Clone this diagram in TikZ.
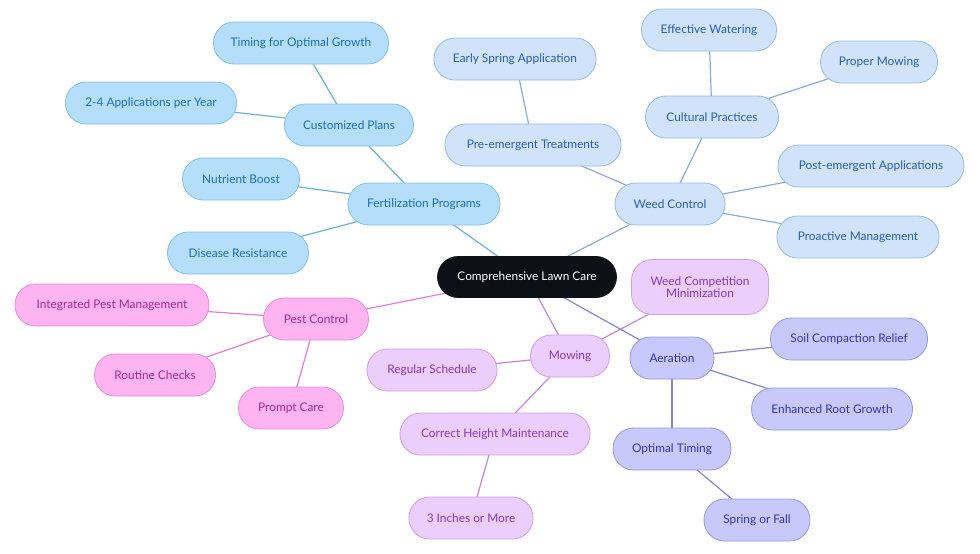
\documentclass[tikz,border=0pt]{standalone}
\usepackage{fontspec}
\setmainfont{Lato}
\usetikzlibrary{backgrounds}
\definecolor{bAf}{RGB}{181,222,250}
\definecolor{bAd}{RGB}{128,192,238}
\definecolor{bAt}{RGB}{24,112,180}
\definecolor{bAl}{RGB}{105,175,225}
\definecolor{bBf}{RGB}{208,227,250}
\definecolor{bBd}{RGB}{150,186,232}
\definecolor{bBt}{RGB}{38,96,176}
\definecolor{bBl}{RGB}{135,172,222}
\definecolor{pkf}{RGB}{253,180,240}
\definecolor{pkd}{RGB}{232,140,215}
\definecolor{pkt}{RGB}{172,40,148}
\definecolor{pkl}{RGB}{228,125,205}
\definecolor{puf}{RGB}{236,206,252}
\definecolor{pud}{RGB}{202,160,232}
\definecolor{put}{RGB}{135,55,188}
\definecolor{pul}{RGB}{192,135,222}
\definecolor{inf}{RGB}{198,201,250}
\definecolor{ind}{RGB}{150,152,226}
\definecolor{int}{RGB}{52,52,168}
\definecolor{inl}{RGB}{132,132,210}
\definecolor{ctr}{RGB}{13,17,23}
\tikzset{
  pill/.style={rectangle, rounded corners=15.5pt, minimum height=31.5pt, inner sep=0pt, line width=0.6pt, font=\fontsize{8.9}{10}\selectfont, align=center},
  wd/.style={minimum width=#1*0.75pt},
  gA/.style={pill, fill=bAf, draw=bAd, text=bAt},
  gB/.style={pill, fill=bBf, draw=bBd, text=bBt},
  gP/.style={pill, fill=pkf, draw=pkd, text=pkt},
  gU/.style={pill, fill=puf, draw=pud, text=put},
  gI/.style={pill, fill=inf, draw=ind, text=int},
  eA/.style={draw=bAl, line width=0.9pt},
  eB/.style={draw=bBl, line width=0.9pt},
  eP/.style={draw=pkl, line width=0.9pt},
  eU/.style={draw=pul, line width=0.9pt},
  eI/.style={draw=inl, line width=0.9pt},
}
\begin{document}
\begin{tikzpicture}[x=0.75pt,y=-0.75pt]
\useasboundingbox (0,0) rectangle (980,553);
% center
\node[pill, wd=179, minimum height=30.75pt, fill=ctr, draw=ctr, text=white] (c) at (527,277) {Comprehensive Lawn Care};
% Fertilization
\node[gA, wd=152] (fert) at (424,204) {Fertilization Programs};
\node[gA, wd=117] (nut) at (241,179) {Nutrient Boost};
\node[gA, wd=141] (dis) at (238,253) {Disease Resistance};
\node[gA, wd=129] (cus) at (349,125) {Customized Plans};
\node[gA, wd=175] (tim) at (301,43) {Timing for Optimal Growth};
\node[gA, wd=171] (app) at (151,103) {2-4 Applications per Year};
% Weed control
\node[gB, wd=110] (weed) at (670,204) {Weed Control};
\node[gB, wd=133] (cult) at (712,117) {Cultural Practices};
\node[gB, wd=186] (post) at (871,166) {Post-emergent Applications};
\node[gB, wd=162] (proa) at (858,237) {Proactive Management};
\node[gB, wd=176] (pre) at (533,145) {Pre-emergent Treatments};
\node[gB, wd=162] (early) at (515,59) {Early Spring Application};
\node[gB, wd=135] (wat) at (709,30) {Effective Watering};
\node[gB, wd=117] (pmow) at (879,62) {Proper Mowing};
% Pest
\node[gP, wd=105] (pest) at (316,319) {Pest Control};
\node[gP, wd=194] (ipm) at (112,305) {Integrated Pest Management};
\node[gP, wd=121] (rout) at (155,375) {Routine Checks};
\node[gP, wd=105] (prom) at (291,408) {Prompt Care};
% Mowing
\node[gU, wd=79] (mow) at (570,356) {Mowing};
\node[gU, wd=137, minimum height=41.25pt] (wcm) at (700,287) {Weed Competition\\[-1pt]Minimization};
\node[gU, wd=130] (reg) at (432,370) {Regular Schedule};
\node[gU, wd=190] (corr) at (495,434) {Correct Height Maintenance};
\node[gU, wd=124] (inch) at (471,518) {3 Inches or More};
% Aeration
\node[gI, wd=84] (aer) at (672,358) {Aeration};
\node[gI, wd=157] (soil) at (849,339) {Soil Compaction Relief};
\node[gI, wd=161] (root) at (832,409) {Enhanced Root Growth};
\node[gI, wd=118] (opt) at (672,449) {Optimal Timing};
\node[gI, wd=106] (spr) at (757,520) {Spring or Fall};
\begin{scope}[on background layer]
\draw[eA] (c.center) -- (fert.center);
\draw[eA] (fert.center) -- (nut.center);
\draw[eA] (fert.center) -- (dis.center);
\draw[eA] (fert.center) -- (cus.center);
\draw[eA] (cus.center) -- (tim.center);
\draw[eA] (cus.center) -- (app.center);
\draw[eB] (c.center) -- (weed.center);
\draw[eB] (weed.center) -- (cult.center);
\draw[eB] (weed.center) -- (post.center);
\draw[eB] (weed.center) -- (proa.center);
\draw[eB] (weed.center) -- (pre.center);
\draw[eB] (pre.center) -- (early.center);
\draw[eB] (cult.center) -- (wat.center);
\draw[eB] (cult.center) -- (pmow.center);
\draw[eP] (c.center) -- (pest.center);
\draw[eP] (pest.center) -- (ipm.center);
\draw[eP] (pest.center) -- (rout.center);
\draw[eP] (pest.center) -- (prom.center);
\draw[eU] (c.center) -- (mow.center);
\draw[eU] (mow.center) -- (wcm.center);
\draw[eU] (mow.center) -- (reg.center);
\draw[eU] (mow.center) -- (corr.center);
\draw[eU] (corr.center) -- (inch.center);
\draw[eI] (c.center) -- (aer.center);
\draw[eI] (aer.center) -- (soil.center);
\draw[eI] (aer.center) -- (root.center);
\draw[eI] (aer.center) -- (opt.center);
\draw[eI] (opt.center) -- (spr.center);
\end{scope}
\end{tikzpicture}
\end{document}
